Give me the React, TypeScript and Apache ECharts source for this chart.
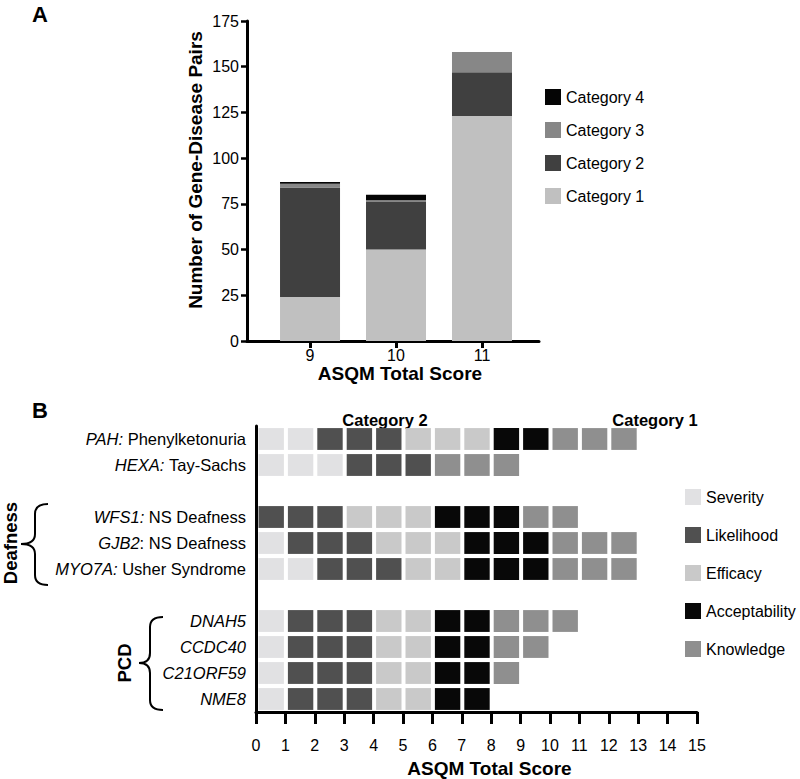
import React, { useEffect, useRef } from "react";
import * as echarts from "echarts";

// ---------- Panel A data ----------
const scores = [9, 10, 11];
const category1 = [24, 50, 123];
const category2 = [60, 26, 24];
const category3 = [2, 1, 11];
const category4 = [1, 3, 0];
const categoryNames = ["Category 1", "Category 2", "Category 3", "Category 4"];

// ---------- Panel B data ----------
const rowKeys = ["PAH", "HEXA", "gap1", "WFS1", "GJB2", "MYO7A", "gap2", "DNAH5", "CCDC40", "C21ORF59", "NME8"];
const geneLabels = ["PAH:", "HEXA:", "", "WFS1:", "GJB2", "MYO7A:", "", "DNAH5", "CCDC40", "C21ORF59", "NME8"];
const diseaseLabels = [" Phenylketonuria", " Tay-Sachs", "", " NS Deafness", ": NS Deafness", " Usher Syndrome", "", "", "", "", ""];
const criteriaNames = ["Severity", "Likelihood", "Efficacy", "Acceptability", "Knowledge"];
const severity = [2, 3, 0, 0, 1, 2, 0, 1, 1, 1, 1];
const likelihood = [3, 3, 0, 3, 3, 3, 0, 3, 3, 3, 3];
const efficacy = [3, 0, 0, 3, 3, 2, 0, 2, 2, 2, 2];
const acceptability = [2, 0, 0, 3, 3, 3, 0, 2, 2, 2, 2];
const knowledge = [3, 3, 0, 2, 3, 3, 0, 3, 2, 1, 0];

const FONT = "'Liberation Sans', Arial, Helvetica, sans-serif";
const catColors = ["#c0c0c0", "#404040", "#878787", "#050505"];
const critColors = ["#e1e1e3", "#505050", "#c9c9c9", "#080808", "#8f8f8f"];

function bracePath(xr: number, xc: number, xl: number, yt: number, ym: number, yb: number, r: number) {
  return `M${xr},${yt} Q${xc},${yt} ${xc},${yt + r} L${xc},${ym - r} Q${xc},${ym} ${xl},${ym} Q${xc},${ym} ${xc},${ym + r} L${xc},${yb - r} Q${xc},${yb} ${xr},${yb}`;
}

echarts.graphic.registerShape("braceDeafness", echarts.graphic.extendPath(bracePath(48, 35, 21, 504, 544, 585, 10), {}));
echarts.graphic.registerShape("bracePCD", echarts.graphic.extendPath(bracePath(163, 150, 139, 617, 663, 710, 10), {}));

function buildCells() {
  const counts = [severity, likelihood, efficacy, acceptability, knowledge];
  const out: number[][][] = counts.map(() => []);
  rowKeys.forEach((_, r) => {
    let start = 0;
    counts.forEach((arr, c) => {
      for (let k = 0; k < arr[r]; k++) {
        out[c].push([start + k, r]);
      }
      start += arr[r];
    });
  });
  return out;
}

export default function App() {
  const ref = useRef<HTMLDivElement>(null);
  useEffect(() => {
    if (!ref.current) return;
    const chart = echarts.init(ref.current, null, { renderer: "svg" });
    const cells = buildCells();
    const catData = [category1, category2, category3, category4];

    // data given as [count, score] so that the stacked dimension is the count (y)
    const barSeries = catData.map((vals, i) => ({
      name: categoryNames[i],
      type: "bar",
      xAxisIndex: 0,
      yAxisIndex: 0,
      stack: "a",
      barWidth: 60,
      encode: { x: 1, y: 0 },
      itemStyle: { color: catColors[i] },
      data: vals.map((v, j) => [v, scores[j]]),
    }));

    const cellSeries = cells.map((data, c) => ({
      name: criteriaNames[c],
      type: "custom",
      xAxisIndex: 1,
      yAxisIndex: 1,
      itemStyle: { color: critColors[c] },
      encode: { x: 0, y: 1 },
      data,
      renderItem: (params: any, api: any) => {
        const x = api.value(0);
        const row = api.value(1);
        const a = api.coord([x, row]);
        const b = api.coord([x + 1, row]);
        const h = api.size([0, 1])[1];
        const ch = h * 0.84;
        return {
          type: "rect",
          shape: { x: a[0] + 2.5, y: a[1] - ch / 2, width: b[0] - a[0] - 4, height: ch },
          style: { fill: api.visual("color") },
        };
      },
    }));

    const axisLineStyle = { color: "#000", width: 3 };

    chart.setOption({
      animation: false,
      textStyle: { fontFamily: FONT },
      grid: [
        { left: 247, right: 261, top: 21, bottom: 438 },
        { left: 256, right: 103, top: 426, bottom: 67 },
      ],
      xAxis: [
        {
          type: "value",
          gridIndex: 0,
          min: 8.267,
          max: 11.663,
          splitLine: { show: false },
          axisLine: { show: true, lineStyle: axisLineStyle },
          axisTick: { show: true, customValues: scores, length: 7, lineStyle: { color: "#000", width: 3 } },
          axisLabel: { customValues: scores, fontSize: 16, color: "#000", margin: 6, fontFamily: FONT, formatter: (v: number) => String(v) },
          name: "ASQM Total Score",
          nameLocation: "middle",
          nameGap: 21,
          nameTextStyle: { fontSize: 19, fontWeight: "bold", color: "#000", fontFamily: FONT, padding: [0, 0, 0, 14] },
        },
        {
          type: "value",
          gridIndex: 1,
          min: 0,
          max: 15,
          interval: 1,
          splitLine: { show: false },
          axisLine: { show: true, lineStyle: axisLineStyle },
          axisTick: { show: true, length: 12, lineStyle: { color: "#000", width: 3 } },
          axisLabel: { fontSize: 16, color: "#000", margin: 25, fontFamily: FONT },
          name: "ASQM Total Score",
          nameLocation: "middle",
          nameGap: 47,
          nameTextStyle: { fontSize: 19, fontWeight: "bold", color: "#000", fontFamily: FONT, padding: [0, 0, 0, 26] },
        },
      ],
      yAxis: [
        {
          type: "value",
          gridIndex: 0,
          min: 0,
          max: 175,
          interval: 25,
          splitLine: { show: false },
          axisLine: { show: true, lineStyle: axisLineStyle },
          axisTick: { show: true, length: 6, lineStyle: { color: "#000", width: 2.5 } },
          axisLabel: { fontSize: 16, color: "#000", margin: 8, fontFamily: FONT },
        },
        {
          type: "category",
          gridIndex: 1,
          data: rowKeys,
          inverse: true,
          axisLine: { show: true, lineStyle: axisLineStyle },
          axisTick: { show: false },
          splitLine: { show: false },
          axisLabel: {
            margin: 10,
            color: "#000",
            fontSize: 16.5,
            fontFamily: FONT,
            formatter: (_v: string, idx: number) => {
              const g = geneLabels[idx];
              if (!g) return "";
              const d = diseaseLabels[idx];
              return d ? `{g|${g}}{d|${d}}` : `{g|${g}}`;
            },
            rich: {
              g: { fontStyle: "italic", fontSize: 16.5, color: "#000", fontFamily: FONT },
              d: { fontSize: 16.5, color: "#000", fontFamily: FONT },
            },
          },
        },
      ],
      legend: [
        {
          data: ["Category 4", "Category 3", "Category 2", "Category 1"],
          orient: "vertical",
          left: 540,
          top: 84,
          icon: "rect",
          itemWidth: 16,
          itemHeight: 16,
          itemGap: 17,
          selectedMode: false,
          textStyle: { fontSize: 16, color: "#000", fontFamily: FONT, lineHeight: 16 },
        },
        {
          data: criteriaNames,
          orient: "vertical",
          left: 680,
          top: 484,
          icon: "rect",
          itemWidth: 16,
          itemHeight: 16,
          itemGap: 22,
          selectedMode: false,
          textStyle: { fontSize: 16, color: "#000", fontFamily: FONT, lineHeight: 16 },
        },
      ],
      graphic: [
        { type: "text", x: 40, y: 14, style: { text: "A", fontSize: 22, fontWeight: "bold", fill: "#000", fontFamily: FONT, align: "center", verticalAlign: "middle" } },
        { type: "text", x: 40, y: 410, style: { text: "B", fontSize: 22, fontWeight: "bold", fill: "#000", fontFamily: FONT, align: "center", verticalAlign: "middle" } },
        { type: "text", x: 195, y: 170, rotation: Math.PI / 2, style: { text: "Number of Gene-Disease Pairs", fontSize: 19, fontWeight: "bold", fill: "#000", fontFamily: FONT, align: "center", verticalAlign: "middle" } },
        { type: "text", x: 385, y: 420, style: { text: "Category 2", fontSize: 16.5, fontWeight: "bold", fill: "#000", fontFamily: FONT, align: "center", verticalAlign: "middle" } },
        { type: "text", x: 655, y: 420, style: { text: "Category 1", fontSize: 16.5, fontWeight: "bold", fill: "#000", fontFamily: FONT, align: "center", verticalAlign: "middle" } },
        { type: "text", x: 10, y: 543, rotation: Math.PI / 2, style: { text: "Deafness", fontSize: 18.5, fontWeight: "bold", fill: "#000", fontFamily: FONT, align: "center", verticalAlign: "middle" } },
        { type: "text", x: 124, y: 663, rotation: Math.PI / 2, style: { text: "PCD", fontSize: 18.5, fontWeight: "bold", fill: "#000", fontFamily: FONT, align: "center", verticalAlign: "middle" } },
        { type: "braceDeafness", x: 0, y: 0, style: { stroke: "#000", lineWidth: 2, fill: "none" } },
        { type: "bracePCD", x: 0, y: 0, style: { stroke: "#000", lineWidth: 2, fill: "none" } },
      ],
      series: [...barSeries, ...cellSeries],
    });
    return () => chart.dispose();
  }, []);
  return <div ref={ref} style={{ position: "fixed", left: 0, top: 0, width: 800, height: 779, background: "#fff" }} />;
}
